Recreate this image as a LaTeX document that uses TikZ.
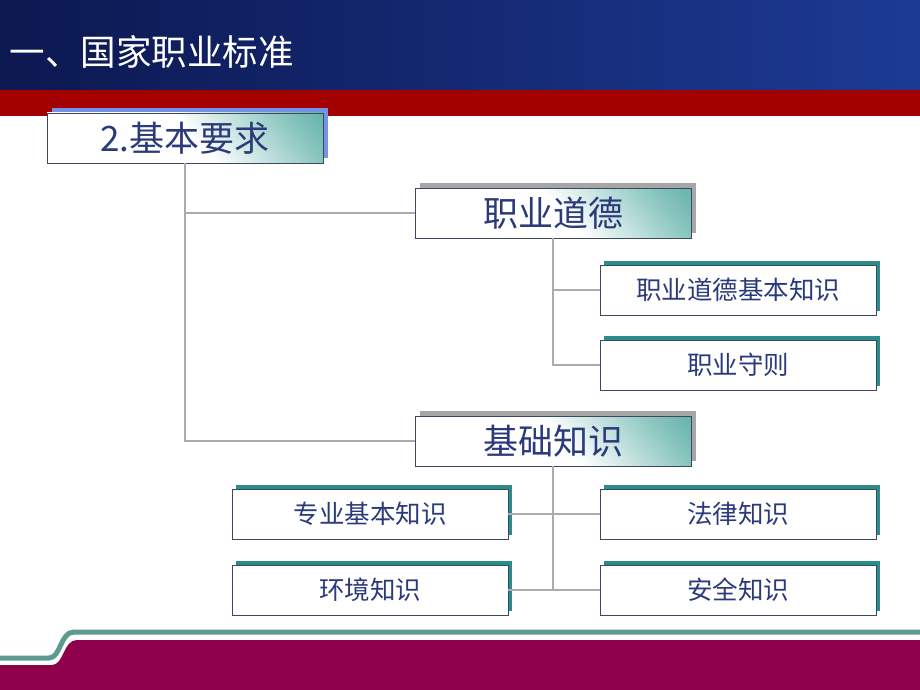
\documentclass[tikz,border=0pt]{standalone}
\usepackage{fontspec}
\newfontfamily\cjk{Noto Sans CJK SC}
\usepackage{tikz}
\usetikzlibrary{positioning,shadows,calc}
\usepackage{xcolor}

\definecolor{bandleft}{HTML}{0C1850}
\definecolor{bandright}{HTML}{1C3A94}
\definecolor{bandred}{HTML}{A30000}
\definecolor{footteal}{HTML}{5E9A92}
\definecolor{footmaroon}{HTML}{8E004B}
\definecolor{boxtext}{HTML}{2B3A7A}
\definecolor{boxline}{HTML}{3E4760}
\definecolor{fadeteal}{HTML}{2A968A}
\definecolor{edgeteal}{HTML}{2A8C8C}
\definecolor{reqblue}{HTML}{7393E6}
\definecolor{linkgray}{HTML}{ABABAB}

\pgfdeclarehorizontalshading{boxfade}{100bp}{color(0bp)=(white); color(52bp)=(white); color(76bp)=(fadeteal!55); color(100bp)=(fadeteal)}

\begin{document}
\begin{tikzpicture}[
    x=1pt, y=-1pt,
    headbox/.style={rectangle, draw=boxline, line width=0.8pt, shading=boxfade, shading angle=40, minimum width=276pt, minimum height=50pt, inner sep=0pt, text=boxtext, font=\cjk\fontsize{35}{35}\selectfont},
    leafbox/.style={rectangle, draw=boxline, line width=0.8pt, fill=white, minimum width=276pt, minimum height=50pt, inner sep=0pt, text=boxtext, font=\cjk\fontsize{25.5}{25.5}\selectfont, drop shadow={shadow xshift=4pt, shadow yshift=4pt, fill=edgeteal, opacity=1}},
    link/.style={draw=linkgray, line width=2pt}
]
    \useasboundingbox (0,0) rectangle (920,690);

    % header bands
    \shade[left color=bandleft, right color=bandright] (0,0) rectangle (920,90);
    \fill[bandred] (0,90) rectangle (920,116);
    \node[text=white, font=\cjk\fontsize{35.5}{35.5}\selectfont, anchor=west] (title) at (6,52) {一、国家职业标准};

    % footer
    \fill[footmaroon] (0,665) -- (52,665) .. controls (64,665) and (63,640) .. (77,640) -- (920,640) -- (920,690) -- (0,690) -- cycle;
    \draw[footteal, line width=5pt] (0,658) -- (49,658) .. controls (61,658) and (60,632) .. (74,632) -- (920,632);

    % boxes
    \node[headbox, drop shadow={shadow xshift=5pt, shadow yshift=5pt, fill=reqblue, opacity=1}] (req) at (185,138) {2.基本要求};
    \node[headbox, drop shadow={shadow xshift=5pt, shadow yshift=5pt, fill=gray!70, opacity=1}] (ethic) at (553,213) {职业道德};
    \node[headbox, drop shadow={shadow xshift=5pt, shadow yshift=5pt, fill=gray!70, opacity=1}] (basic) at (553,441) {基础知识};

    \node[leafbox] (ethbase) at (738,290) {职业道德基本知识};
    \node[leafbox] (rules) at (738,365) {职业守则};
    \node[leafbox] (prof) at (370,514) {专业基本知识};
    \node[leafbox] (env) at (370,590) {环境知识};
    \node[leafbox] (law) at (738,514) {法律知识};
    \node[leafbox] (safe) at (738,590) {安全知识};

    % connectors
    \draw[link] (req.south) |- (ethic.west);
    \draw[link] (req.south) |- (basic.west);
    \draw[link] (ethic.south) |- (ethbase.west);
    \draw[link] (ethic.south) |- (rules.west);
    \draw[link] (basic.south) -- (basic.south |- env.east);
    \draw[link] (prof.east) -- (law.west);
    \draw[link] (env.east) -- (safe.west);
\end{tikzpicture}
\end{document}
